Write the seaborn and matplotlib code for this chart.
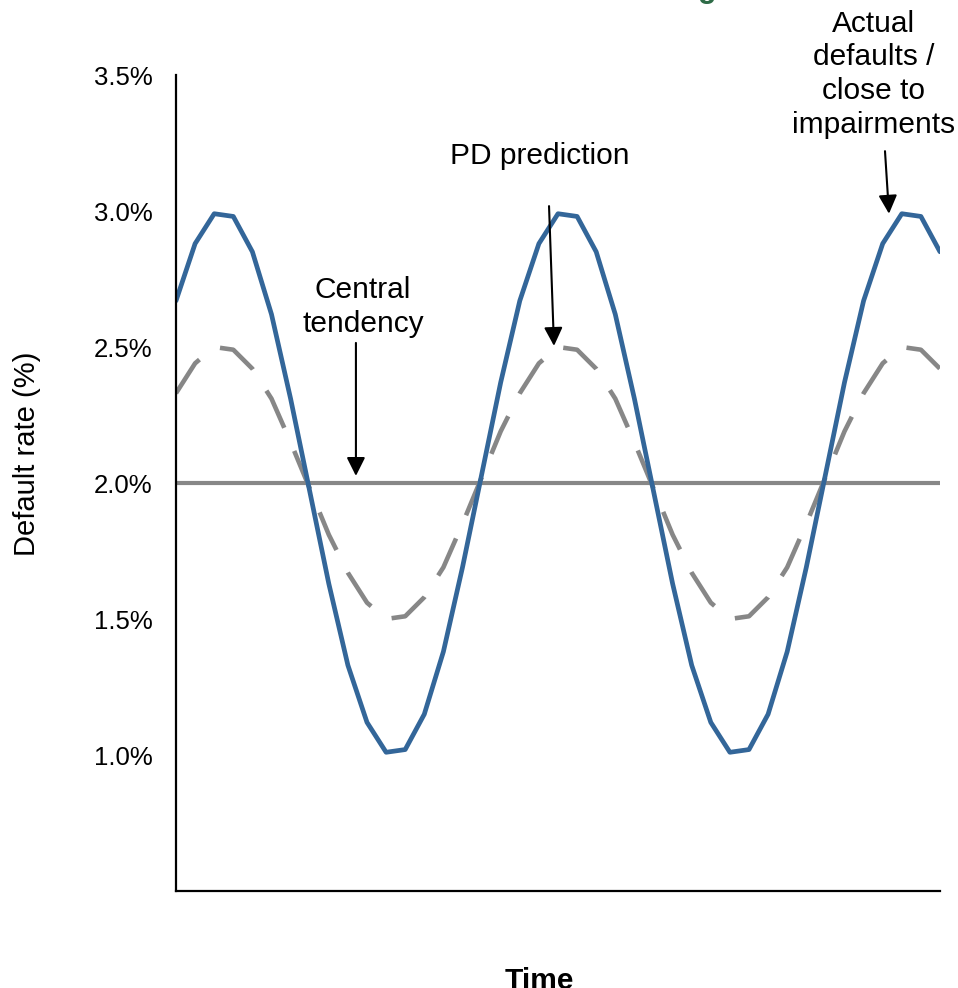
import matplotlib
matplotlib.use("Agg")
import matplotlib.pyplot as plt
import seaborn as sns
import pandas as pd
from matplotlib.ticker import FuncFormatter

# ---- data ----
time_idx = list(range(41))
actual_defaults = [2.67, 2.88, 2.99, 2.98, 2.85, 2.62, 2.31, 1.97, 1.63, 1.33, 1.12, 1.01, 1.02, 1.15, 1.38, 1.69, 2.03, 2.37,
                   2.67, 2.88, 2.99, 2.98, 2.85, 2.62, 2.31, 1.97, 1.63, 1.33, 1.12, 1.01, 1.02, 1.15, 1.38, 1.69, 2.03, 2.37,
                   2.67, 2.88, 2.99, 2.98, 2.85]
pd_prediction = [2.33, 2.44, 2.50, 2.49, 2.42, 2.31, 2.15, 1.98, 1.81, 1.67, 1.56, 1.50, 1.51, 1.58, 1.69, 1.85, 2.02, 2.19,
                 2.33, 2.44, 2.50, 2.49, 2.42, 2.31, 2.15, 1.98, 1.81, 1.67, 1.56, 1.50, 1.51, 1.58, 1.69, 1.85, 2.02, 2.19,
                 2.33, 2.44, 2.50, 2.49, 2.42]
central_tendency = [2.0, 2.0, 2.0, 2.0, 2.0, 2.0, 2.0, 2.0, 2.0, 2.0, 2.0, 2.0, 2.0, 2.0, 2.0, 2.0, 2.0, 2.0, 2.0, 2.0,
                    2.0, 2.0, 2.0, 2.0, 2.0, 2.0, 2.0, 2.0, 2.0, 2.0, 2.0, 2.0, 2.0, 2.0, 2.0, 2.0, 2.0, 2.0, 2.0, 2.0, 2.0]
y_ticks = [1.0, 1.5, 2.0, 2.5, 3.0, 3.5]

df = pd.DataFrame({"t": time_idx, "actual": actual_defaults,
                   "pd": pd_prediction, "central": central_tendency})

sns.set_theme(style="white")
plt.rcParams["font.family"] = ["Liberation Sans", "DejaVu Sans"]

fig = plt.figure(figsize=(9.58, 9.88), dpi=100)
ax = fig.add_axes([176 / 958, 1 - 891 / 988, (940 - 176) / 958, (891 - 75) / 988])

sns.lineplot(data=df, x="t", y="central", ax=ax, color="#878787", lw=3.0)
sns.lineplot(data=df, x="t", y="pd", ax=ax, color="#878787", lw=3.3,
             linestyle=(0, (9, 5.5)), dash_capstyle="butt")
sns.lineplot(data=df, x="t", y="actual", ax=ax, color="#336699", lw=3.4,
             solid_joinstyle="round")

ax.set_xlim(0, 40)
ax.set_ylim(0.5, 3.5)
ax.set_xticks([])
ax.set_yticks(y_ticks)
ax.yaxis.set_major_formatter(FuncFormatter(lambda v, p: f"{v:.1f}%"))
ax.tick_params(axis="y", length=0, pad=17, labelsize=18.5, labelcolor="black")
ax.set_xlabel("")
ax.set_ylabel("")
for s in ["top", "right"]:
    ax.spines[s].set_visible(False)
for s in ["left", "bottom"]:
    ax.spines[s].set_color("black")
    ax.spines[s].set_linewidth(1.6)

fig.text(27 / 958, 1 - 454 / 988, "Default rate (%)", rotation=90,
         ha="center", va="center", fontsize=21, color="black")
fig.text(539 / 958, 1 - 981 / 988, "Time", ha="center", va="center",
         fontsize=21.5, fontweight="bold", color="black")
# partially visible title glyph at the very top
fig.text(707 / 958, 1 + 3 / 988, "g", ha="center", va="baseline",
         fontsize=22, fontweight="bold", color="#2e6b47")

arrow = dict(arrowstyle="-|>", color="black", lw=1.5, mutation_scale=28,
             shrinkA=0, shrinkB=0)
txt = dict(ha="center", va="center", fontsize=21.5, color="black", linespacing=1.27)

ax.annotate("", xy=(9.42, 2.026), xytext=(9.42, 2.515), arrowprops=arrow)
ax.text(9.79, 2.647, "Central\ntendency", **txt)

ax.annotate("", xy=(19.79, 2.504), xytext=(19.53, 3.018), arrowprops=arrow)
ax.text(19.06, 3.202, "PD prediction", **txt)

ax.annotate("", xy=(37.33, 2.99), xytext=(37.12, 3.22), arrowprops=arrow,
            annotation_clip=False)
ax.text(36.54, 3.502, "Actual\ndefaults /\nclose to\nimpairments", clip_on=False, **txt)

fig.savefig("out.png", dpi=100)
